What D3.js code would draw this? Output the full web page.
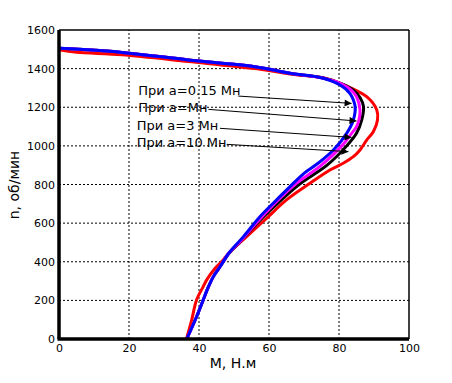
<!DOCTYPE html>
<html><head><meta charset="utf-8">
<script src="https://cdn.jsdelivr.net/npm/d3@7"></script>
<style>body{margin:0;background:#fff}svg{display:block;font-family:"DejaVu Sans",sans-serif}</style>
</head><body><svg id="c" width="452" height="383"></svg>
<script>
// Speed n (об/мин) and torque M (Н.м) for each curve
const redN = [0, 98, 202, 271, 306, 366, 409, 452, 530, 625, 720, 806, 875, 910, 944, 979, 1030, 1073, 1134, 1186, 1255, 1324, 1350, 1372, 1400, 1437, 1472, 1485, 1497];
const redM = [36.4, 37.9, 39.3, 41.2, 42.2, 44.6, 46.9, 48.9, 53.6, 59.3, 65.0, 71.7, 77.4, 81.2, 84.1, 86.0, 87.9, 89.8, 91.0, 90.8, 87.9, 80.3, 76.0, 66.0, 56.0, 37.0, 18.0, 5.0, 0];

const blackN = [0, 115, 202, 262, 323, 374, 444, 500, 600, 700, 800, 900, 1000, 1065, 1134, 1203, 1250, 1289, 1320, 1350, 1376, 1410, 1445, 1484, 1505];
const blackM = [36.5, 39.3, 41.2, 42.5, 44.1, 46.0, 48.6, 51.6, 56.6, 62.3, 68.6, 76.6, 82.2, 85.0, 86.5, 87.0, 86.0, 84.1, 81.0, 75.8, 66.0, 56.0, 37.0, 18.0, 0];

const magentaN = [0, 115, 202, 262, 323, 374, 444, 500, 600, 700, 800, 900, 1000, 1065, 1099, 1134, 1186, 1255, 1289, 1320, 1350, 1376, 1410, 1445, 1484, 1505];
const magentaM = [36.5, 39.3, 41.2, 42.5, 44.1, 46.0, 48.5, 51.5, 56.3, 61.5, 67.4, 75.0, 80.8, 83.6, 85.0, 85.7, 86.0, 85.0, 83.5, 80.8, 75.6, 66.0, 56.0, 37.0, 18.0, 0];

const blueN = [0, 115, 202, 262, 323, 374, 444, 530, 633, 703, 789, 858, 910, 979, 1065, 1134, 1203, 1272, 1315, 1350, 1376, 1410, 1445, 1484, 1505];
const blueM = [36.5, 39.3, 41.2, 42.5, 44.1, 46.0, 48.5, 52.7, 57.4, 61.2, 66.0, 70.0, 74.0, 78.4, 82.2, 84.1, 84.6, 83.1, 80.3, 75.5, 66.0, 56.0, 37.0, 18.0, 0.3];

const xTicks = [0, 20, 40, 60, 80, 100];
const yTicks = [0, 200, 400, 600, 800, 1000, 1200, 1400, 1600];
const labels = ["При a=0.15 Мн", "При a=Мн", "При a=3 Мн", "При a=10 Мн"];
// label anchor (M, n), arrow start and arrow tip (M, n) in data units
const labelM = [22.65, 22.65, 22.2, 22.2];
const labelN = [1263, 1174, 1082, 996];
const arrowStartM = [51.2, 42.7, 46.0, 47.9];
const arrowStartN = [1258, 1189, 1091, 1008];
const arrowEndM = [83.6, 85.0, 83.6, 82.7];
const arrowEndN = [1220, 1129, 1044, 970];

const svg = d3.select("#c");
const x = d3.scaleLinear().domain([0, 100]).range([59, 409]);
const y = d3.scaleLinear().domain([0, 1600]).range([339, 30]);

// grid
const g = svg.append("g");
g.selectAll(".gx").data(xTicks.slice(1, -1)).join("line")
  .attr("x1", d => x(d)).attr("x2", d => x(d)).attr("y1", y(0)).attr("y2", y(1600))
  .attr("stroke", "#000").attr("stroke-width", 1).attr("stroke-dasharray", "2,2");
g.selectAll(".gy").data(yTicks.slice(1, -1)).join("line")
  .attr("x1", x(0)).attr("x2", x(100)).attr("y1", d => y(d)).attr("y2", d => y(d))
  .attr("stroke", "#000").attr("stroke-width", 1).attr("stroke-dasharray", "2,2");

// tick labels via d3 axes
const xa = svg.append("g").attr("transform", `translate(0,${y(0)})`)
  .call(d3.axisBottom(x).tickValues(xTicks).tickFormat(d3.format("d")).tickSize(0).tickPadding(5));
const ya = svg.append("g").attr("transform", `translate(${x(0)},0)`)
  .call(d3.axisLeft(y).tickValues(yTicks).tickFormat(d3.format("d")).tickSize(0).tickPadding(4));
[xa, ya].forEach(a => {
  a.select(".domain").remove();
  a.selectAll("text").attr("font-family", "DejaVu Sans").attr("font-size", 11).attr("fill", "#000");
});

// curves
const line = d3.line().x(d => x(d[0])).y(d => y(d[1])).curve(d3.curveCatmullRom.alpha(0.5));
const series = [
  {m: redM, n: redN, c: "#ff0000"},
  {m: blackM, n: blackN, c: "#000000"},
  {m: magentaM, n: magentaN, c: "#ff00ff"},
  {m: blueM, n: blueN, c: "#0000ff"}
];
svg.append("g").selectAll("path").data(series).join("path")
  .attr("d", s => line(s.m.map((v, i) => [v, s.n[i]])))
  .attr("fill", "none").attr("stroke", s => s.c).attr("stroke-width", 3)
  .attr("stroke-linejoin", "round");

// frame
svg.append("line").attr("x1", x(0)).attr("x2", x(100)).attr("y1", y(1600)).attr("y2", y(1600)).attr("stroke", "#000").attr("stroke-width", 1.5);
svg.append("line").attr("x1", x(100)).attr("x2", x(100)).attr("y1", y(0)).attr("y2", y(1600)).attr("stroke", "#000").attr("stroke-width", 1.5);
svg.append("line").attr("x1", x(0) - 1.5).attr("x2", x(100)).attr("y1", y(0)).attr("y2", y(0)).attr("stroke", "#000").attr("stroke-width", 3.5);
svg.append("line").attr("x1", x(0)).attr("x2", x(0)).attr("y1", y(0)).attr("y2", y(1600)).attr("stroke", "#000").attr("stroke-width", 3.5);

// annotations
svg.append("defs").append("marker").attr("id", "ah").attr("viewBox", "0 0 10 10")
  .attr("refX", 10).attr("refY", 5).attr("markerWidth", 8).attr("markerHeight", 7)
  .attr("markerUnits", "userSpaceOnUse").attr("orient", "auto")
  .append("path").attr("d", "M0,0L10,5L0,10z").attr("fill", "#000");
labels.forEach((t, i) => {
  svg.append("line").attr("x1", x(arrowStartM[i])).attr("y1", y(arrowStartN[i]))
    .attr("x2", x(arrowEndM[i])).attr("y2", y(arrowEndN[i]))
    .attr("stroke", "#000").attr("stroke-width", 1).attr("marker-end", "url(#ah)");
  svg.append("text").attr("x", x(labelM[i])).attr("y", y(labelN[i]))
    .attr("font-size", 13).attr("fill", "#000").text(t);
});

// axis titles
svg.append("text").attr("x", 233).attr("y", 368).attr("text-anchor", "middle").attr("font-size", 14).text("M, Н.м");
svg.append("text").attr("transform", "translate(19,185) rotate(-90)").attr("text-anchor", "middle").attr("font-size", 14).text("n, об/мин");
</script></body></html>
